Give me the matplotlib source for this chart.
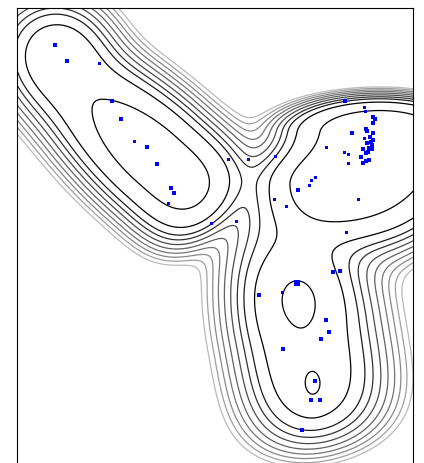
import numpy as np
import matplotlib.pyplot as plt

# scatter points (x, y in axes pixel units, y downwards) and marker size in px
pt_x = [55, 67, 99, 112, 121, 134, 147, 157, 171, 174, 168, 211, 236,
        228, 248, 275, 274, 286, 298, 309, 311, 315, 326, 344, 348, 348, 358, 346,
        345, 364, 365, 352, 373, 375, 373, 366, 367, 373, 370, 373, 371, 367, 372,
        369, 372, 363, 366, 368, 348, 344, 361, 369, 366, 363, 348, 364,
        333, 340, 297, 282, 259, 326, 329, 321, 283, 315, 311, 320, 302]
pt_y = [45, 61, 63, 101, 119, 141, 147, 164, 188, 193, 203, 223, 221,
        159, 159, 156, 199, 206, 190, 185, 180, 177, 147, 152, 154, 163, 199, 232,
        101, 107, 111, 133, 117, 119, 123, 129, 131, 133, 137, 140, 142, 143, 145,
        148, 149, 149, 153, 152, 154, 152, 157, 160, 161, 163, 163, 138,
        272, 271, 283, 292, 295, 320, 332, 339, 349, 381, 400, 400, 430]
pt_s = [5, 5, 3, 5, 5, 3, 5, 5, 5, 5, 3, 3, 3,
        3, 3, 3, 3, 3, 5, 3, 3, 3, 3, 3, 3, 3, 3, 3,
        4, 3, 3, 4, 5, 5, 5, 5, 5, 5, 5, 5, 5, 5, 5,
        5, 5, 4, 5, 5, 3, 3, 4, 5, 5, 4, 3, 3,
        5, 5, 6, 3, 4, 5, 5, 5, 5, 5, 5, 5, 5]

# background density: split generalised gaussians
# centre, angle (deg), sigma and exponent on each side (-a, +a, -b, +b),
# radial exponent q, height
comp_cx = [155, 58, 380, 325, 302, 298, 313]
comp_cy = [158, 52, 132, 185, 330, 293, 386]
comp_ang = [42, 45, 0, 0, -10, 0, 0]
comp_sa1 = [80, 30, 62, 35, 38, 26, 8]
comp_sa2 = [64, 30, 60, 40, 41, 26, 8]
comp_sb1 = [31, 30, 23, 20, 75, 26, 12]
comp_sb2 = [31, 30, 70, 30, 86, 26, 12]
comp_pa1 = [2, 2, 2, 2, 2, 2, 2]
comp_pa2 = [4, 2, 2, 2, 2, 2, 2]
comp_pb1 = [2, 2, 2, 2, 2, 2, 2]
comp_pb2 = [2, 2, 2, 2, 4, 2, 2]
comp_q = [1, 1, 1.5, 1, 1, 1, 1]
comp_h = [0.95, 0.35, 0.9, 0.7, 0.52, 0.2, 0.2]

# contour levels
lev = [0.021, 0.03, 0.042, 0.058, 0.08, 0.11, 0.15, 0.2, 0.3, 0.6]

gx, gy = np.meshgrid(np.linspace(17, 413, 400), np.linspace(8, 475, 470))
dens = np.zeros_like(gx)
for i in range(len(comp_cx)):
    t = np.deg2rad(comp_ang[i])
    u = (gx - comp_cx[i]) * np.cos(t) + (gy - comp_cy[i]) * np.sin(t)
    v = -(gx - comp_cx[i]) * np.sin(t) + (gy - comp_cy[i]) * np.cos(t)
    tu = np.where(u < 0, np.abs(u / comp_sa1[i]) ** comp_pa1[i], np.abs(u / comp_sa2[i]) ** comp_pa2[i])
    tv = np.where(v < 0, np.abs(v / comp_sb1[i]) ** comp_pb1[i], np.abs(v / comp_sb2[i]) ** comp_pb2[i])
    dens += comp_h[i] * np.exp(-0.5 * (tu + tv) ** comp_q[i])

fig = plt.figure(figsize=(4.24, 4.63), dpi=100)
ax = fig.add_axes([17 / 424, -12 / 463, 396 / 424, 467 / 463])
ax.contour(gx, gy, np.log(dens), levels=np.log(lev), cmap='Greys',
           vmin=np.log(0.004), vmax=np.log(0.3), linewidths=0.9)
for x, y, s in zip(pt_x, pt_y, pt_s):
    ax.plot(x, y, 's', color='#0000ff', markersize=s * 0.72, markeredgewidth=0)
ax.set_xlim(17, 413)
ax.set_ylim(475, 8)
ax.set_xticks([])
ax.set_yticks([])
plt.savefig('out.png', dpi=100)
